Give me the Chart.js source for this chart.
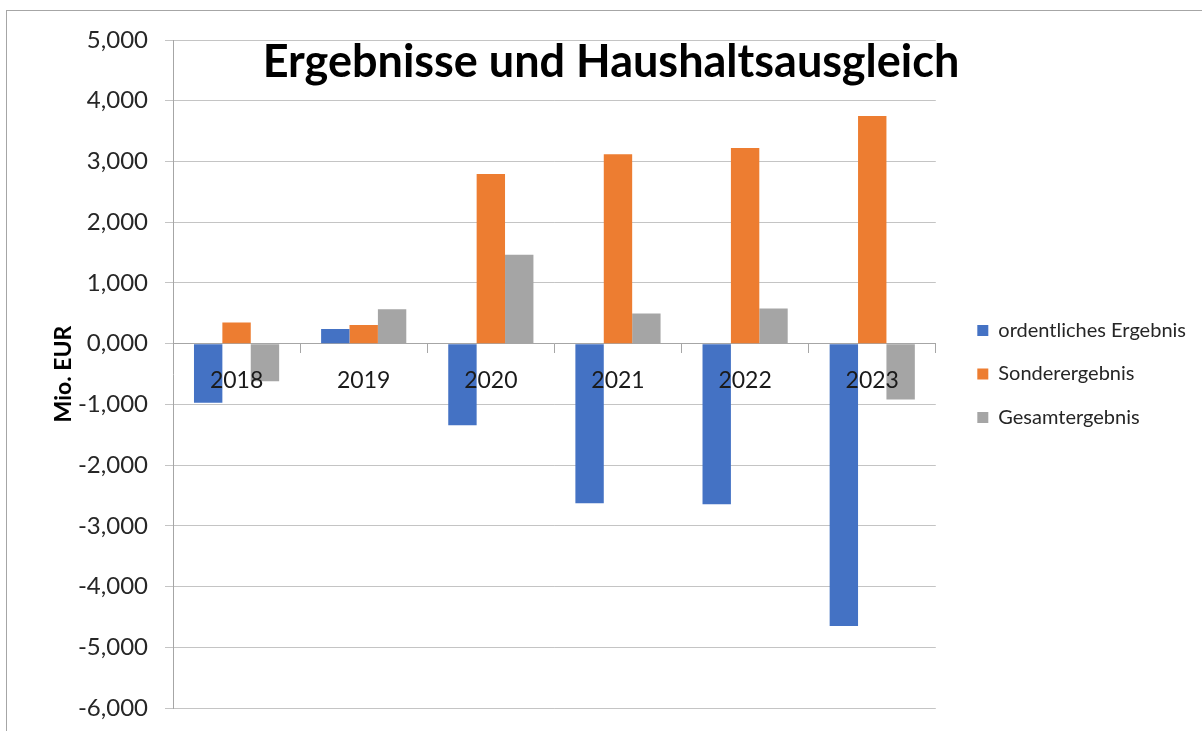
<!DOCTYPE html>
<html>
<head>
<meta charset="utf-8">
<script src="https://cdn.jsdelivr.net/npm/chart.js@4/dist/chart.umd.min.js"></script>
<style>
    html, body { margin: 0; padding: 0; background: #fff; }
    #wrap { position: relative; width: 1202px; height: 731px; overflow: hidden; }
    #frame { position: absolute; left: 6px; top: 10px; right: -2px; bottom: -2px;
             border-top: 1px solid #a6a6a6; border-left: 1px solid #a6a6a6; }
    #chart { position: absolute; left: 0; top: 0; }
</style>
</head>
<body>
<div id="wrap">
    <div id="frame"></div>
    <canvas id="chart" width="1202" height="731"></canvas>
</div>
<script>
// values in Mio. EUR
const years = ['2018', '2019', '2020', '2021', '2022', '2023'];
const ordentlich = [-975, 240, -1343, -2628, -2644, -4649];
const sonder = [350, 305, 2793, 3117, 3220, 3748];
const gesamt = [-620, 565, 1463, 497, 580, -920];

const yTickValues = [5000, 4000, 3000, 2000, 1000, 0, -1000, -2000, -3000, -4000, -5000, -6000];
const yTickLabels = ['5,000', '4,000', '3,000', '2,000', '1,000', '0,000',
    '-1,000', '-2,000', '-3,000', '-4,000', '-5,000', '-6,000'];

const chartTitle = 'Ergebnisse und Haushaltsausgleich';
const FONT = 'Lato, "Open Sans", sans-serif';

// title sits inside the plot area, so draw it after everything else
const titleOverlay = {
    id: 'titleOverlay',
    afterDraw(chart) {
        const ctx = chart.ctx;
        ctx.save();
        ctx.font = 'bold 45px ' + FONT;
        ctx.fillStyle = '#000';
        ctx.textAlign = 'center';
        ctx.textBaseline = 'alphabetic';
        ctx.fillText(chartTitle, 611, 77);
        ctx.restore();
    }
};

const ctx = document.getElementById('chart');

new Chart(ctx, {
    type: 'bar',
    data: {
        labels: years,
        datasets: [{
            label: 'ordentliches Ergebnis',
            data: ordentlich,
            backgroundColor: '#4472C4'
        }, {
            label: 'Sonderergebnis',
            data: sonder,
            backgroundColor: '#ED7D31'
        }, {
            label: 'Gesamtergebnis',
            data: gesamt,
            backgroundColor: '#A5A5A5'
        }]
    },
    options: {
        responsive: false,
        animation: false,
        categoryPercentage: 0.67,
        barPercentage: 1.0,
        layout: {
            padding: { top: 40, bottom: 23, left: 0, right: 6 }
        },
        plugins: {
            legend: {
                position: 'right',
                maxWidth: 320,
                labels: {
                    color: '#262626',
                    boxWidth: 11,
                    boxHeight: 11,
                    padding: 23.5,
                    font: { family: FONT, size: 20 }
                }
            },
            tooltip: { enabled: false }
        },
        scales: {
            x: {
                position: { y: 0 },
                grid: {
                    offset: true,
                    drawOnChartArea: false,
                    drawTicks: true,
                    tickLength: 9,
                    color: '#a6a6a6'
                },
                border: { display: true, color: '#a6a6a6', width: 1 },
                ticks: {
                    z: 1, // year labels in front of the bars
                    color: '#1a1a1a',
                    padding: 14,
                    font: { family: FONT, size: 23 }
                }
            },
            y: {
                min: -6000,
                max: 5000,
                afterBuildTicks(scale) {
                    scale.ticks = yTickValues.map(v => ({ value: v }));
                },
                afterFit(scale) {
                    scale.width = 173;
                    scale.paddingTop = 0;
                    scale.paddingBottom = 0;
                },
                grid: {
                    color: '#c4c4c4',
                    tickLength: 8,
                    drawTicks: true
                },
                border: { display: true, color: '#a6a6a6' },
                ticks: {
                    color: '#262626',
                    padding: 17,
                    font: { family: FONT, size: 24 },
                    callback: function (value) {
                        const i = yTickValues.indexOf(value);
                        return i >= 0 ? yTickLabels[i] : '';
                    }
                },
                title: {
                    display: true,
                    text: 'Mio. EUR',
                    color: '#000',
                    padding: { top: 50, bottom: 0 },
                    font: { family: FONT, size: 23, weight: 'bold' }
                }
            },
            // empty axis used only as a gap between plot and legend
            gap: {
                type: 'linear',
                position: 'right',
                display: true,
                grid: { display: false },
                border: { display: false },
                ticks: { display: false },
                afterFit(scale) {
                    scale.width = 18;
                }
            }
        }
    },
    plugins: [titleOverlay]
});
</script>
</body>
</html>
